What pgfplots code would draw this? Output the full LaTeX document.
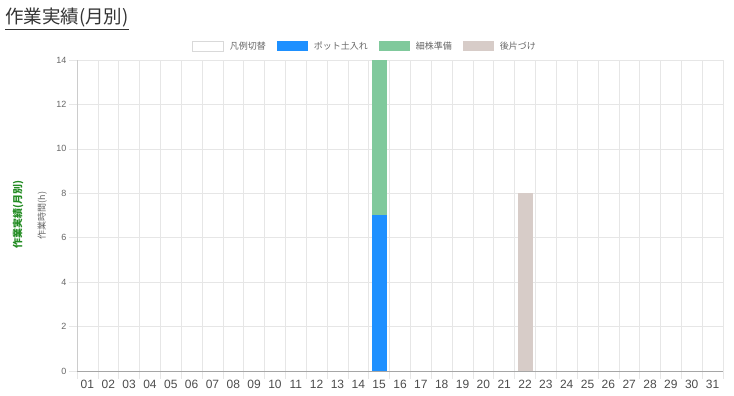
\documentclass[border=0pt]{standalone}
\usepackage{fontspec}
\setmainfont{Liberation Sans}
\newfontfamily\jp{Noto Sans CJK JP}
\usepackage{pgfplots}
\pgfplotsset{compat=1.18}
\definecolor{cblue}{RGB}{30,144,255}
\definecolor{cgreen}{RGB}{128,201,156}
\definecolor{cbeige}{RGB}{215,204,200}
\definecolor{gridc}{RGB}{230,230,230}
\definecolor{txt}{RGB}{102,102,102}
\definecolor{dgreen}{RGB}{34,139,34}
\begin{document}
\begin{tikzpicture}
\path[use as bounding box] (0,0) rectangle (734pt,396pt);
\node[anchor=west, inner sep=0pt, text=black!80] at (5pt,377pt) {\fontsize{18.5}{20}\selectfont\jp\underline{作業実績(月別)}};
\begin{axis}[
  at={(77pt,25pt)}, anchor=south west,
  scale only axis, width=646pt, height=311pt,
  ybar stacked, bar width=15pt,
  xmin=0.5, xmax=31.5, ymin=0, ymax=14,
  xtick={1,...,31},
  xticklabels={01,02,03,04,05,06,07,08,09,10,11,12,13,14,15,16,17,18,19,20,21,22,23,24,25,26,27,28,29,30,31},
  minor xtick={0.5,1.5,...,31.5},
  ytick={0,2,...,14},
  xmajorgrids=false, xminorgrids=true, ymajorgrids=true,
  grid style={gridc, line width=0.6pt},
  minor grid style={gridc, line width=0.6pt},
  major x tick style={draw=none},
  minor x tick style={gridc, line width=0.6pt},
  y tick style={gridc, line width=0.6pt},
  tick align=outside, major tick length=8pt, minor tick length=8pt,
  axis x line*=bottom, axis y line*=left,
  x axis line style={draw=black!35, -},
  y axis line style={draw=black!20, -},
  /pgf/number format/assume math mode=true,
  xticklabel style={font=\fontsize{12}{14}\selectfont, text=black!70, yshift=2pt},
  yticklabel style={font=\fontsize{9}{10}\selectfont, text=txt, xshift=1pt},
  ylabel={\fontsize{9}{10}\selectfont\jp 作業時間(h)},
  ylabel style={text=txt, at={(axis description cs:-0.054,0.5)}, anchor=center},
  legend style={draw=none, fill=none, at={(axis description cs:0.446,1.045)}, anchor=center,
    legend columns=4, font=\fontsize{9}{10}\selectfont\jp, text=txt,
    /tikz/every even column/.append style={column sep=9pt},
    /tikz/every odd column/.append style={column sep=4pt},
    inner sep=0pt, row sep=0pt},
  legend image code/.code={\fill[#1] (0pt,-5pt) rectangle (31pt,5pt);},
  clip=false,
]
\addlegendimage{legend image code/.code={\draw[black!15, fill=white] (0pt,-5pt) rectangle (31pt,5pt);}}
\addlegendentry{凡例切替}
\addplot[fill=cblue, draw=none] coordinates {(15,7) (22,0)};
\addlegendentry{ポット土入れ}
\addplot[fill=cgreen, draw=none] coordinates {(15,7) (22,0)};
\addlegendentry{細株準備}
\addplot[fill=cbeige, draw=none] coordinates {(15,0) (22,8)};
\addlegendentry{後片づけ}
\end{axis}
\node[rotate=90, text=dgreen, font=\fontsize{10}{12}\selectfont\jp\bfseries] at (18pt,181pt) {作業実績(月別)};
\end{tikzpicture}
\end{document}
